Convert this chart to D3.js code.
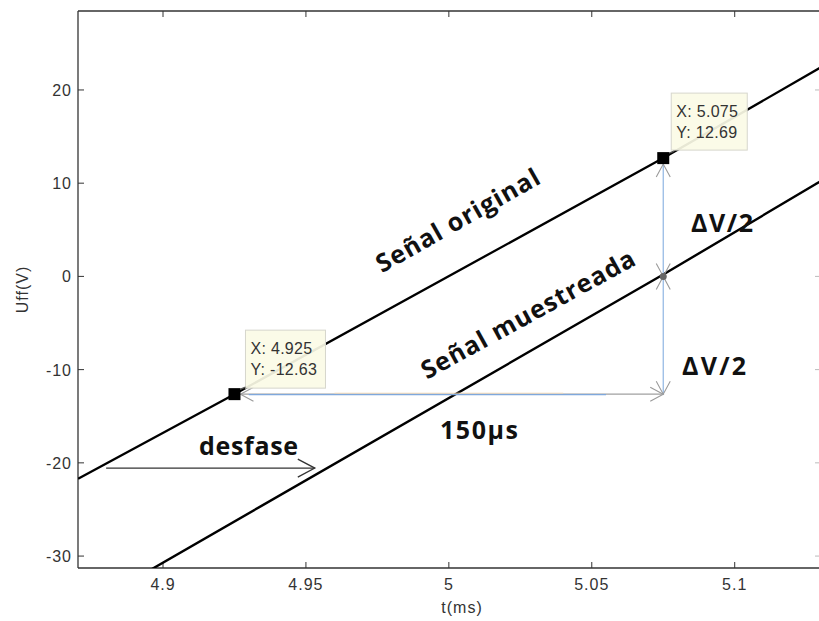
<!DOCTYPE html>
<html>
<head>
<meta charset="utf-8">
<script src="https://cdn.jsdelivr.net/npm/d3@7"></script>
<style>
  html, body { margin: 0; padding: 0; background: #fff; }
  svg { display: block; }
  .tick-label { font-family: "Liberation Sans", Arial, sans-serif; font-size: 16px; fill: #333; letter-spacing: 1px; }
  .ann { font-family: "Open Sans", "Lato", sans-serif; font-weight: 700; font-size: 25px; fill: #111; }
  .tip { font-family: "Liberation Sans", Arial, sans-serif; font-size: 16px; fill: #333; letter-spacing: 0.3px; }
</style>
</head>
<body>
<script>
// ---------------- data ----------------
const xTickValues = [4.9, 4.95, 5, 5.05, 5.1];
const xTickLabels = ["4.9", "4.95", "5", "5.05", "5.1"];
const yTickValues = [-30, -20, -10, 0, 10, 20];
const yTickLabels = ["-30", "-20", "-10", "0", "10", "20"];

// Señal original
const origT = [4.8703, 4.925, 5.075, 5.13];
const origV = [-21.7, -12.63, 12.69, 22.4];
// Señal muestreada
const sampT = [4.8955, 5.075, 5.13];
const sampV = [-31.5, 0.2, 10.2];

// data tips
const tipT = [4.925, 5.075];
const tipV = [-12.63, 12.69];
const tipLabels = [["X: 4.925", "Y: -12.63"], ["X: 5.075", "Y: 12.69"]];

// measurement arrows
const midV = 0;            // sampled value at t = 5.075
const desfaseT = [4.8801, 4.9531];
const desfaseV = -20.56;

const xDomain = [4.87026, 5.12984];
const yDomain = [-31.28, 28.47];

// ---------------- layout ----------------
const W = 819, H = 621;
const L = 78, R = 820, T = 11, B = 568;

const svg = d3.select("body").append("svg").attr("width", W).attr("height", H);

const x = d3.scaleLinear().domain(xDomain).range([L, R]);
const y = d3.scaleLinear().domain(yDomain).range([B, T]);

const defs = svg.append("defs");
defs.append("clipPath").attr("id", "clip")
  .append("rect").attr("x", L).attr("y", T).attr("width", R - L).attr("height", B - T);

function arrowMarker(id, color, len, half, sw) {
  defs.append("marker").attr("id", id)
    .attr("markerUnits", "userSpaceOnUse")
    .attr("markerWidth", len + 4).attr("markerHeight", 2 * half + 4)
    .attr("viewBox", `0 0 ${len + 4} ${2 * half + 4}`)
    .attr("refX", len + 1).attr("refY", half + 2)
    .attr("orient", "auto-start-reverse")
    .append("path")
    .attr("d", `M1,2 L${len + 1},${half + 2} L1,${2 * half + 2}`)
    .attr("fill", "none").attr("stroke", color).attr("stroke-width", sw);
}
arrowMarker("gArrow", "#9a9a9a", 13, 7, 1.1);
arrowMarker("bArrow", "#333", 17, 9, 1.3);

// ---------------- axes ----------------
const axisColor = "#333";
const ax = svg.append("g");
ax.append("line").attr("x1", L).attr("x2", R).attr("y1", B).attr("y2", B).attr("stroke", axisColor).attr("stroke-width", 1.3);
ax.append("line").attr("x1", L).attr("x2", R).attr("y1", T).attr("y2", T).attr("stroke", axisColor).attr("stroke-width", 1.3);
ax.append("line").attr("x1", L).attr("x2", L).attr("y1", T).attr("y2", B).attr("stroke", axisColor).attr("stroke-width", 1.3);

const tl = 6;
xTickValues.forEach((v, i) => {
  ax.append("line").attr("x1", x(v)).attr("x2", x(v)).attr("y1", B).attr("y2", B - tl).attr("stroke", axisColor);
  ax.append("line").attr("x1", x(v)).attr("x2", x(v)).attr("y1", T).attr("y2", T + tl).attr("stroke", axisColor);
  ax.append("text").attr("class", "tick-label").attr("x", x(v)).attr("y", 590)
    .attr("text-anchor", "middle").text(xTickLabels[i]);
});
yTickValues.forEach((v, i) => {
  ax.append("line").attr("x1", L).attr("x2", L + tl).attr("y1", y(v)).attr("y2", y(v)).attr("stroke", axisColor);
  ax.append("line").attr("x1", R - 5).attr("x2", R).attr("y1", y(v)).attr("y2", y(v)).attr("stroke", "#bbb");
  ax.append("text").attr("class", "tick-label").attr("x", 72).attr("y", y(v) + 6)
    .attr("text-anchor", "end").text(yTickLabels[i]);
});
ax.append("text").attr("class", "tick-label").attr("x", (L + R) / 2 + 13).attr("y", 613)
  .attr("text-anchor", "middle").text("t(ms)");
ax.append("text").attr("class", "tick-label")
  .attr("transform", `translate(28, ${(T + B) / 2}) rotate(-90)`)
  .attr("text-anchor", "middle").text("Uff(V)");

// ---------------- lines ----------------
const plot = svg.append("g").attr("clip-path", "url(#clip)");
const lineGen = d3.line().x(d => x(d[0])).y(d => y(d[1]));

plot.append("path").datum(origT.map((t, i) => [t, origV[i]]))
  .attr("d", lineGen).attr("fill", "none").attr("stroke", "#000").attr("stroke-width", 2.3);
plot.append("path").datum(sampT.map((t, i) => [t, sampV[i]]))
  .attr("d", lineGen).attr("fill", "none").attr("stroke", "#000").attr("stroke-width", 2.4);

// ---------------- measurement arrows ----------------
const ann = svg.append("g");
// horizontal 150 µs arrow
ann.append("line")
  .attr("x1", x(tipT[0]) + 6).attr("x2", x(tipT[1])).attr("y1", y(tipV[0])).attr("y2", y(tipV[0]))
  .attr("stroke", "#a0a0a0").attr("stroke-width", 1.1)
  .attr("marker-start", "url(#gArrow)").attr("marker-end", "url(#gArrow)");
ann.append("line")
  .attr("x1", x(4.93)).attr("x2", x(5.055)).attr("y1", y(tipV[0]) + 0.5).attr("y2", y(tipV[0]) + 0.5)
  .attr("stroke", "#7fa8dc").attr("stroke-width", 1.2);
ann.append("line")
  .attr("x1", x(4.96)).attr("x2", x(5.04)).attr("y1", y(tipV[0]) - 1).attr("y2", y(tipV[0]) - 1)
  .attr("stroke", "#f3d9b8").attr("stroke-width", 0.8);
// vertical arrows
ann.append("line")
  .attr("x1", x(tipT[1])).attr("x2", x(tipT[1])).attr("y1", y(midV)).attr("y2", y(tipV[1]) + 6)
  .attr("stroke", "#8fb5e3").attr("stroke-width", 1.2)
  .attr("marker-start", "url(#gArrow)").attr("marker-end", "url(#gArrow)");
ann.append("line")
  .attr("x1", x(tipT[1])).attr("x2", x(tipT[1])).attr("y1", y(midV)).attr("y2", y(tipV[0]))
  .attr("stroke", "#8fb5e3").attr("stroke-width", 1.2)
  .attr("marker-start", "url(#gArrow)").attr("marker-end", "url(#gArrow)");
ann.append("circle").attr("cx", x(tipT[1])).attr("cy", y(midV)).attr("r", 3.5).attr("fill", "#666");

// desfase arrow
ann.append("line")
  .attr("x1", x(desfaseT[0])).attr("x2", x(desfaseT[1])).attr("y1", y(desfaseV)).attr("y2", y(desfaseV))
  .attr("stroke", "#333").attr("stroke-width", 1.3).attr("marker-end", "url(#bArrow)");

// ---------------- data tips ----------------
const tipBox = [{ dx: 11, dy: -64, w: 80, h: 58 }, { dx: 8, dy: -65, w: 76, h: 57 }];
tipT.forEach((t, i) => {
  const px = x(t), py = y(tipV[i]);
  const b = tipBox[i];
  ann.append("rect").attr("x", px + b.dx).attr("y", py + b.dy).attr("width", b.w).attr("height", b.h)
    .attr("fill", "#fbfbe6").attr("fill-opacity", 0.92).attr("stroke", "#d6d6cc").attr("stroke-width", 1);
  ann.append("text").attr("class", "tip").attr("x", px + b.dx + 5).attr("y", py + b.dy + 24).text(tipLabels[i][0]);
  ann.append("text").attr("class", "tip").attr("x", px + b.dx + 5).attr("y", py + b.dy + 45).text(tipLabels[i][1]);
  ann.append("line").attr("x1", px + 6).attr("x2", px + 11).attr("y1", py - 5).attr("y2", py - 7)
    .attr("stroke", "#555").attr("stroke-width", 1.2);
  ann.append("rect").attr("x", px - 6).attr("y", py - 6).attr("width", 12).attr("height", 12).attr("fill", "#000");
});

// ---------------- text annotations ----------------
function lineAngle(ts, vs) {
  const dx = x(ts[ts.length - 1]) - x(ts[0]);
  const dy = y(vs[vs.length - 1]) - y(vs[0]);
  return Math.atan2(dy, dx) * 180 / Math.PI;
}
const labels = [
  { text: "Señal original", t: 5.0046, v: 5.19, anchor: "middle", rot: lineAngle(origT, origV) - 0.5, len: 184 },
  { text: "Señal muestreada", t: 5.0291, v: -4.89, anchor: "middle", rot: lineAngle(sampT, sampV) + 1.3, len: 240 },
  { text: "ΔV/2", t: 5.0847, v: 4.76, anchor: "start", rot: 0, len: 62 },
  { text: "ΔV/2", t: 5.0816, v: -10.58, anchor: "start", rot: 0, len: 64 },
  { text: "150μs", t: 4.9969, v: -17.45, anchor: "start", rot: 0, len: 78 },
  { text: "desfase", t: 4.9126, v: -19.16, anchor: "start", rot: 0, len: 99 }
];
labels.forEach(d => {
  ann.append("text").attr("class", "ann")
    .attr("text-anchor", d.anchor)
    .attr("transform", `translate(${x(d.t)},${y(d.v)}) rotate(${d.rot})`)
    .attr("textLength", d.len).attr("lengthAdjust", "spacing")
    .text(d.text);
});
</script>
</body>
</html>
